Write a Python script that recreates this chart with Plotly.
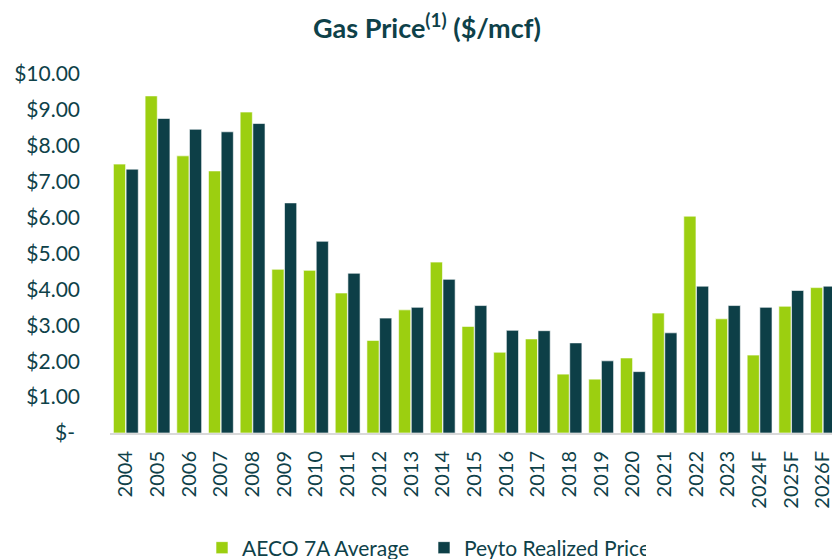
import plotly.graph_objects as go

years = ["2004", "2005", "2006", "2007", "2008", "2009", "2010", "2011", "2012", "2013",
         "2014", "2015", "2016", "2017", "2018", "2019", "2020", "2021", "2022", "2023",
         "2024F", "2025F", "2026F"]
aeco = [7.49, 9.39, 7.72, 7.30, 8.94, 4.56, 4.53, 3.90, 2.58, 3.43,
        4.76, 2.97, 2.25, 2.62, 1.64, 1.50, 2.09, 3.34, 6.04, 3.18,
        2.17, 3.53, 4.05]
peyto = [7.35, 8.76, 8.46, 8.39, 8.62, 6.41, 5.34, 4.45, 3.20, 3.50,
         4.28, 3.55, 2.86, 2.85, 2.51, 2.01, 1.71, 2.79, 4.09, 3.55,
         3.50, 3.97, 4.09]
ytick_vals = [0, 1, 2, 3, 4, 5, 6, 7, 8, 9, 10]
ytick_text = ['$-<span style="color:rgba(0,0,0,0)">.</span>', "$1.00", "$2.00", "$3.00",
              "$4.00", "$5.00", "$6.00", "$7.00", "$8.00", "$9.00", "$10.00"]

GREEN = "#9ccf10"
DARK = "#0d3f47"
TEXT = "#0e4149"

W, H = 832, 559

fig = go.Figure()
fig.add_trace(go.Bar(x=years, y=aeco, name="AECO 7A Average",
                     marker=dict(color=GREEN, line=dict(color="rgba(255,255,255,0.6)", width=1))))
fig.add_trace(go.Bar(x=years, y=peyto, name="Peyto Realized Price",
                     marker=dict(color=DARK, line=dict(color="rgba(255,255,255,0.6)", width=1))))

fig.update_layout(
    width=W, height=H,
    margin=dict(l=110, r=0, t=74, b=126, autoexpand=False),
    paper_bgcolor="white", plot_bgcolor="white",
    barmode="group", bargap=0.2, bargroupgap=0.04,
    font=dict(family="Lato, sans-serif", color=TEXT),
    title=dict(text="<b>Gas Price<sup>(1)</sup> ($/mcf)</b>", x=427 / W, xanchor="center",
               y=1 - 29 / H, yanchor="middle", font=dict(size=27, color=TEXT, family="Lato")),
    showlegend=True,
    legend=dict(orientation="h", xref="container", x=202 / W, xanchor="left",
                yref="container", y=11 / H, yanchor="middle",
                font=dict(size=21, color=TEXT, family="Lato"), itemwidth=30,
                entrywidth=177, entrywidthmode="pixels",
                traceorder="normal"),
    xaxis=dict(type="category", range=[-0.5, 22.285], tickangle=-90,
               tickfont=dict(family="Lato", size=20, color=TEXT),
               showline=True, linecolor="#d9d9d9", linewidth=2,
               showgrid=False, ticks="", automargin=False, ticklabelstandoff=8),
    yaxis=dict(range=[0, 10], tickvals=ytick_vals, ticktext=ytick_text,
               tickfont=dict(family="Lato", size=21, color=TEXT),
               showgrid=False, zeroline=False, showline=False, ticks="",
               ticklabelstandoff=29, automargin=False),
)

fig.write_html("out.html", config={"displayModeBar": False},
               post_script="document.body.style.margin='0';document.body.style.overflow='hidden';")
